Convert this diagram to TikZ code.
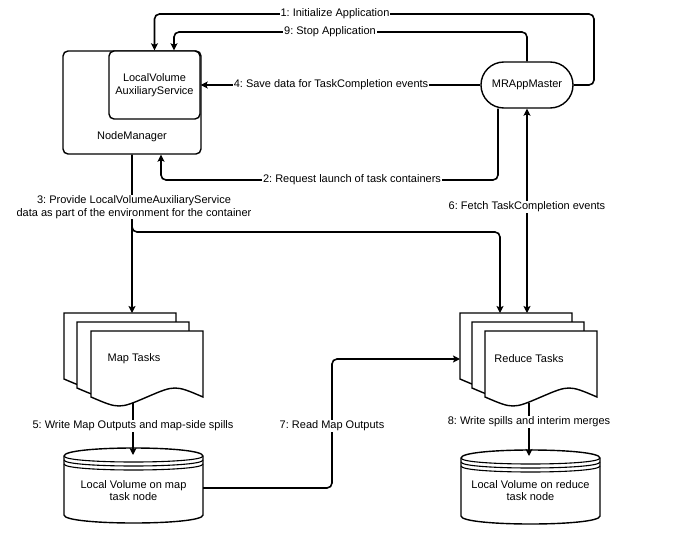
\documentclass[tikz,border=0pt]{standalone}
\usepackage{fontspec}
\setmainfont{Liberation Sans}
\usetikzlibrary{arrows.meta,calc}
\frenchspacing
\tikzset{
  shapeline/.style={draw=black, line width=1.4pt, fill=white},
  boxst/.style={shapeline, rounded corners=5pt, inner sep=0pt, align=center, font=\fontsize{11}{12.5}\selectfont},
  conn/.style={draw=black, line width=1.6pt, rounded corners=5pt, -{Stealth[length=7pt,width=7pt,inset=1.5pt]}},
  connboth/.style={draw=black, line width=1.6pt, {Stealth[length=7pt,width=7pt,inset=1.5pt]}-{Stealth[length=7pt,width=7pt,inset=1.5pt]}},
  lbl/.style={fill=white, inner sep=1pt, font=\fontsize{11}{13}\selectfont, align=center},
  txt/.style={inner sep=0pt, font=\fontsize{11}{12}\selectfont, align=center},
}
\newcommand\docsheet[2]{%
  \path[shapeline] (#1,#2) -- ({#1+112},#2) -- ({#1+112},{#2+66})
    .. controls ({#1+84},{#2+54}) .. ({#1+56},{#2+66})
    .. controls ({#1+28},{#2+78}) .. (#1,{#2+66}) -- cycle;}
\newcommand\datastore[4]{%
  \path[shapeline] (#1,{#2+8}) .. controls (#1,{#2-8/3}) and ({#1+#3},{#2-8/3}) .. ({#1+#3},{#2+8})
    -- ({#1+#3},{#2+#4-8}) .. controls ({#1+#3},{#2+#4+8/3}) and (#1,{#2+#4+8/3}) .. (#1,{#2+#4-8}) -- cycle;
  \foreach \k in {0,4,8}{%
    \draw[line width=1.1pt] (#1,{#2+8+\k}) .. controls (#1,{#2+16+\k}) and ({#1+#3},{#2+16+\k}) .. ({#1+#3},{#2+8+\k});}}
\begin{document}
\begin{tikzpicture}[x=1pt,y=-1pt]
\useasboundingbox[fill=white] (0,0) rectangle (678,549);

% NodeManager and inner service
\node[boxst, minimum width=138pt, minimum height=103pt] (nm) at (132,102.5) {};
\node[txt] (nmtext) at (132,137) {NodeManager};
\node[boxst, text width=91pt, minimum height=68pt] (lv) at (154.5,85) {LocalVolume\\AuxiliaryService};

% MRAppMaster
\node[shapeline, rounded corners=22.9pt, minimum width=92pt, minimum height=46pt, inner sep=0pt, font=\fontsize{11}{13}\selectfont] (mr) at (527,85) {MRAppMaster};

% Map tasks documents
\docsheet{64}{313}
\docsheet{77}{322}
\docsheet{91}{331}
\node[txt] (maptext) at (134,359) {Map Tasks};

% Reduce tasks documents
\docsheet{460}{313}
\docsheet{472}{322}
\docsheet{485}{331}
\node[txt] (redtext) at (529,359) {Reduce Tasks};

% Data stores
\datastore{64}{448}{139}{75}
\node[txt] (mapvol) at (133.5,491) {Local Volume on map\\task node};
\datastore{461}{450}{139}{74}
\node[txt] (redvol) at (530.5,491) {Local Volume on reduce\\task node};

% connector end points
\coordinate (c1) at (594,14);
\coordinate (c9) at (174,32);
\coordinate (c2) at (161,180);
\coordinate (maptop) at (132,313);
\coordinate (redtop3) at (500,313);
\coordinate (redtop6) at (527,313);
\coordinate (b3) at (500,232);
\coordinate (mapbot) at (133,403);
\coordinate (mapcyltop) at (133,455);
\coordinate (mapcylR) at (203,488);
\coordinate (c7) at (332,359);
\coordinate (redL) at (460,359);
\coordinate (redbot) at (529,403);
\coordinate (redcyltop) at (529,456);

% connectors
\draw[conn] (mr.east) -| (c1) -| (lv.north);
\draw[conn] (mr.north) |- (c9) -- ([xshift=19.5pt]lv.north);
\draw[conn] (mr.west) -- (lv.east);
\draw[conn] ([xshift=-29pt]mr.south) |- (c2) -- ([xshift=29pt]nm.south);
\draw[conn] (nm.south) -- (maptop);
\draw[conn] (nm.south) |- (b3) -- (redtop3);
\draw[connboth] (redtop6) -- (mr.south);
\draw[conn] (mapbot) -- (mapcyltop);
\draw[conn] (mapcylR) -| (c7) -- (redL);
\draw[conn] (redbot) -- (redcyltop);

% labels
\node[lbl] (l1) at (335,14) {1: Initialize Application};
\node[lbl] (l9) at (330,32) {9: Stop Application};
\node[lbl] (l4) at (331,85) {4: Save data for TaskCompletion events};
\node[lbl] (l2) at (352,180) {2: Request launch of task containers};
\node[lbl, inner sep=0.5pt] (l3) at (134,207) {3: Provide LocalVolumeAuxiliaryService\\data as part of the environment for the container};
\node[lbl] (l6) at (527,207) {6: Fetch TaskCompletion events};
\node[lbl] (l5) at (133,426) {5: Write Map Outputs and map-side spills};
\node[lbl] (l7) at (332,426) {7: Read Map Outputs};
\node[lbl] (l8) at (529,422) {8: Write spills and interim merges};
\end{tikzpicture}
\end{document}
